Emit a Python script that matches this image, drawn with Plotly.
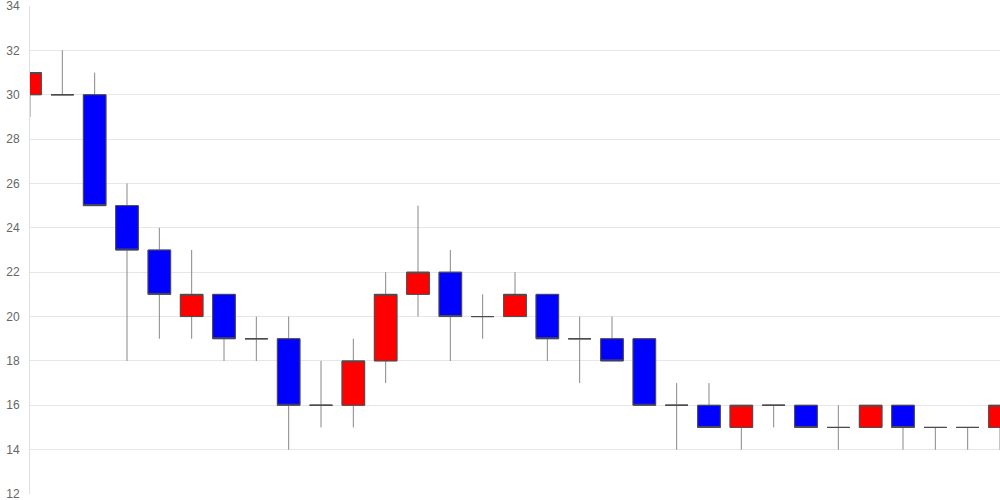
import plotly.graph_objects as go

x_idx = list(range(31))
opens  = [30, 30, 30, 25, 23, 20, 21, 19, 19, 16, 16, 18, 21, 22, 20, 20, 21, 19, 19, 19, 16, 16, 15, 16, 16, 15, 15, 16, 15, 15, 15]
highs  = [31, 32, 31, 26, 24, 23, 21, 20, 20, 18, 19, 22, 25, 23, 21, 22, 21, 20, 20, 19, 17, 17, 16, 16, 16, 16, 16, 16, 15, 15, 16]
lows   = [29, 30, 25, 18, 19, 19, 18, 18, 14, 15, 15, 17, 20, 18, 19, 20, 18, 17, 18, 16, 14, 15, 14, 15, 15, 14, 15, 14, 14, 14, 14]
closes = [31, 30, 25, 23, 21, 21, 19, 19, 16, 16, 18, 21, 22, 20, 20, 21, 19, 19, 18, 16, 16, 15, 16, 16, 15, 15, 16, 15, 15, 15, 16]
y_ticks = [12, 14, 16, 18, 20, 22, 24, 26, 28, 30, 32, 34]

body_top = [max(o, c) for o, c in zip(opens, closes)]
body_bot = [min(o, c) for o, c in zip(opens, closes)]

fig = go.Figure()
# wicks (full high-low range, lighter grey)
fig.add_trace(go.Candlestick(
    x=x_idx, open=opens, high=highs, low=lows, close=closes,
    increasing=dict(fillcolor="#ff0000", line=dict(color="#888888", width=1)),
    decreasing=dict(fillcolor="#0000ff", line=dict(color="#888888", width=1)),
    whiskerwidth=0, hoverinfo="x+y", name="wick",
))
# bodies with darker outline
fig.add_trace(go.Candlestick(
    x=x_idx, open=opens, high=body_top, low=body_bot, close=closes,
    increasing=dict(fillcolor="#ff0000", line=dict(color="#4d4d4d", width=1)),
    decreasing=dict(fillcolor="#0000ff", line=dict(color="#4d4d4d", width=1)),
    whiskerwidth=0, hoverinfo="skip", name="body",
))

fig.update_layout(
    width=1000, height=500,
    margin=dict(l=30, r=0, t=6, b=6, autoexpand=False),
    paper_bgcolor="white", plot_bgcolor="white",
    showlegend=False,
    boxmode="overlay", boxgap=0.3, boxgroupgap=0,
    font=dict(family="Liberation Sans, Arial, sans-serif", size=12, color="#666666"),
    xaxis=dict(range=[0, 30], showticklabels=False, showgrid=False, zeroline=False,
               rangeslider=dict(visible=False), showline=False, fixedrange=True),
    yaxis=dict(range=[12, 34], tickvals=y_ticks, showgrid=True, gridcolor="#e6e6e6",
               zeroline=False, showline=True, linecolor="#e0e0e0", linewidth=1,
               ticks="", ticklabelstandoff=7, ticklabeloverflow="allow",
               tickfont=dict(size=12, color="#666666")),
)

fig.write_html("out.html", config={"displayModeBar": False},
               post_script="document.body.style.margin='0';")
